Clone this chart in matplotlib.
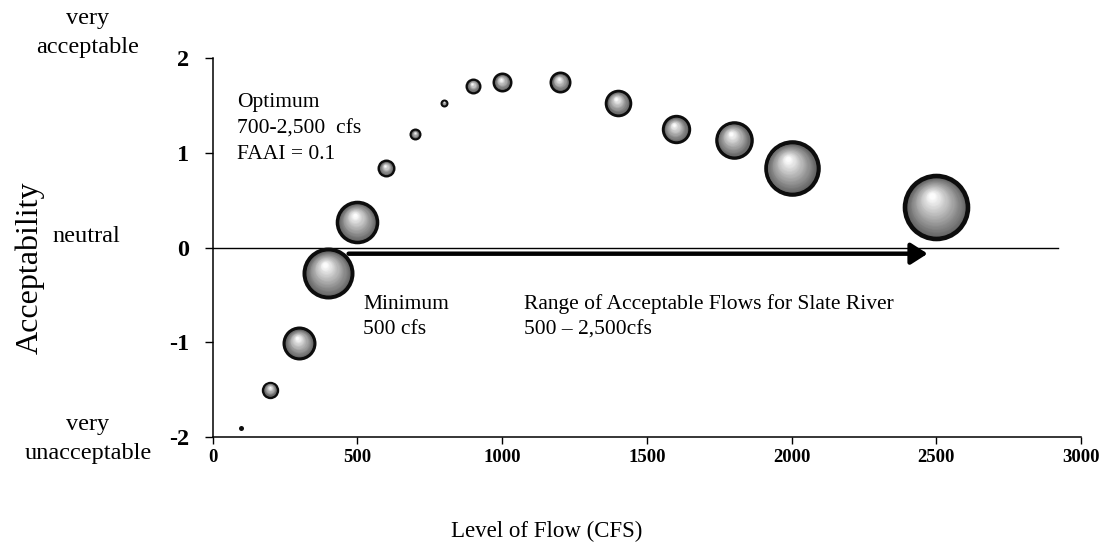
import matplotlib
matplotlib.use('Agg')
import matplotlib.pyplot as plt
from matplotlib.transforms import offset_copy

# ---------------- data ----------------
flow_cfs = [100, 200, 300, 400, 500, 600, 700, 800, 900, 1000, 1200, 1400, 1600, 1800, 2000, 2500]
acceptability = [-1.91, -1.50, -1.01, -0.27, 0.27, 0.84, 1.20, 1.53, 1.71, 1.75, 1.75, 1.53, 1.25, 1.14, 0.84, 0.43]
bubble_size = [2.5, 8.7, 17, 26, 21.8, 9, 6, 4, 8, 10, 11, 13.8, 14.7, 19.3, 28.3, 33.8]

x_ticks = [0, 500, 1000, 1500, 2000, 2500, 3000]
x_tick_labels = ['0', '500', '1000', '1500', '2000', '2500', '3000']
y_ticks = [-2, -1, 0, 1, 2]
y_tick_labels = ['-2', '-1', '0', '1', '2']

range_start, range_end = 470, 2470
zero_line_end = 2920

DPI = 100
plt.rcParams['font.family'] = ['Liberation Serif', 'DejaVu Serif']
plt.rcParams['axes.unicode_minus'] = False

fig = plt.figure(figsize=(11.03, 5.47), dpi=DPI)
ax = fig.add_axes([0.1927, 0.2011, 0.7874, 0.692])
ax.set_xlim(0, 3000)
ax.set_ylim(-2, 2)

for s in ['top', 'right']:
    ax.spines[s].set_visible(False)
for s in ['left', 'bottom']:
    ax.spines[s].set_linewidth(1.1)
    ax.spines[s].set_color('black')

ax.set_xticks(x_ticks)
ax.set_xticklabels(x_tick_labels, fontsize=13.5, fontweight='bold')
ax.set_yticks(y_ticks)
ax.set_yticklabels(y_tick_labels, fontsize=17.5, fontweight='bold')
ax.tick_params(axis='x', direction='out', length=5, width=1, pad=4)
ax.tick_params(axis='y', direction='out', length=6, width=1, pad=11)

# zero line
ax.plot([0, zero_line_end], [0, 0], color='black', lw=1.0, zorder=2, clip_on=False)

# range arrow
ax.annotate('', xy=(range_end, -0.063), xytext=(range_start, -0.063),
            arrowprops=dict(arrowstyle='-|>,head_length=0.5,head_width=0.32',
                            lw=3.2, color='black', shrinkA=0, shrinkB=0,
                            mutation_scale=20),
            zorder=2)


def draw_bubble(x, y, r_px, z):
    pt = 72.0 / DPI
    ax.scatter([x], [y], s=(2 * r_px * pt) ** 2, color='#0d0d0d', linewidths=0, zorder=z)
    e = max(2.0, 1.6 + 0.09 * r_px)
    ri = r_px - e
    if ri <= 0.8:
        return
    n = max(6, int(ri * 1.6))
    for k in range(n):
        t = k / (n - 1)
        rk = ri * (1 - 0.9 * t)
        dx = -0.15 * ri * t
        dy = 0.38 * ri * t
        v = min(1.0, 0.40 + 0.59 * t ** 1.0)
        tr = offset_copy(ax.transData, fig=fig, x=dx, y=dy, units='dots')
        ax.scatter([x], [y], s=(2 * rk * pt) ** 2, color=(v, v, v), linewidths=0,
                   transform=tr, zorder=z + 0.001 * (k + 1))


for i, (xv, yv, rv) in enumerate(zip(flow_cfs, acceptability, bubble_size)):
    draw_bubble(xv, yv, rv, 5 + i)

# annotations inside the axes
ax.text(84, 1.63, 'Optimum\n700-2,500  cfs\nFAAI = 0.1', fontsize=15.5,
        ha='left', va='top', linespacing=1.5, zorder=4)
ax.text(520, -0.73, 'Minimum\n500 cfs', fontsize=15.5, ha='left', va='center',
        linespacing=1.45, zorder=4)
ax.text(1076, -0.73, 'Range of Acceptable Flows for Slate River\n500 \u2013 2,500cfs',
        fontsize=15.5, ha='left', va='center', linespacing=1.45, zorder=4)

# side labels
W, H = 1103.0, 547.0
fig.text(88 / W, 1 - 33 / H, 'very\nacceptable', fontsize=17.5, ha='center', va='center',
         linespacing=1.45)
fig.text(86 / W, 1 - 236 / H, 'neutral', fontsize=17.5, ha='center', va='center')
fig.text(88 / W, 1 - 439 / H, 'very\nunacceptable', fontsize=17.5, ha='center', va='center',
         linespacing=1.45)

fig.text(30 / W, 1 - 268 / H, 'Acceptability', fontsize=23, rotation=90,
         ha='center', va='center')
fig.text(547 / W, 1 - 531 / H, 'Level of Flow (CFS)', fontsize=16.5,
         ha='center', va='center')

fig.savefig('out.png', dpi=DPI)
